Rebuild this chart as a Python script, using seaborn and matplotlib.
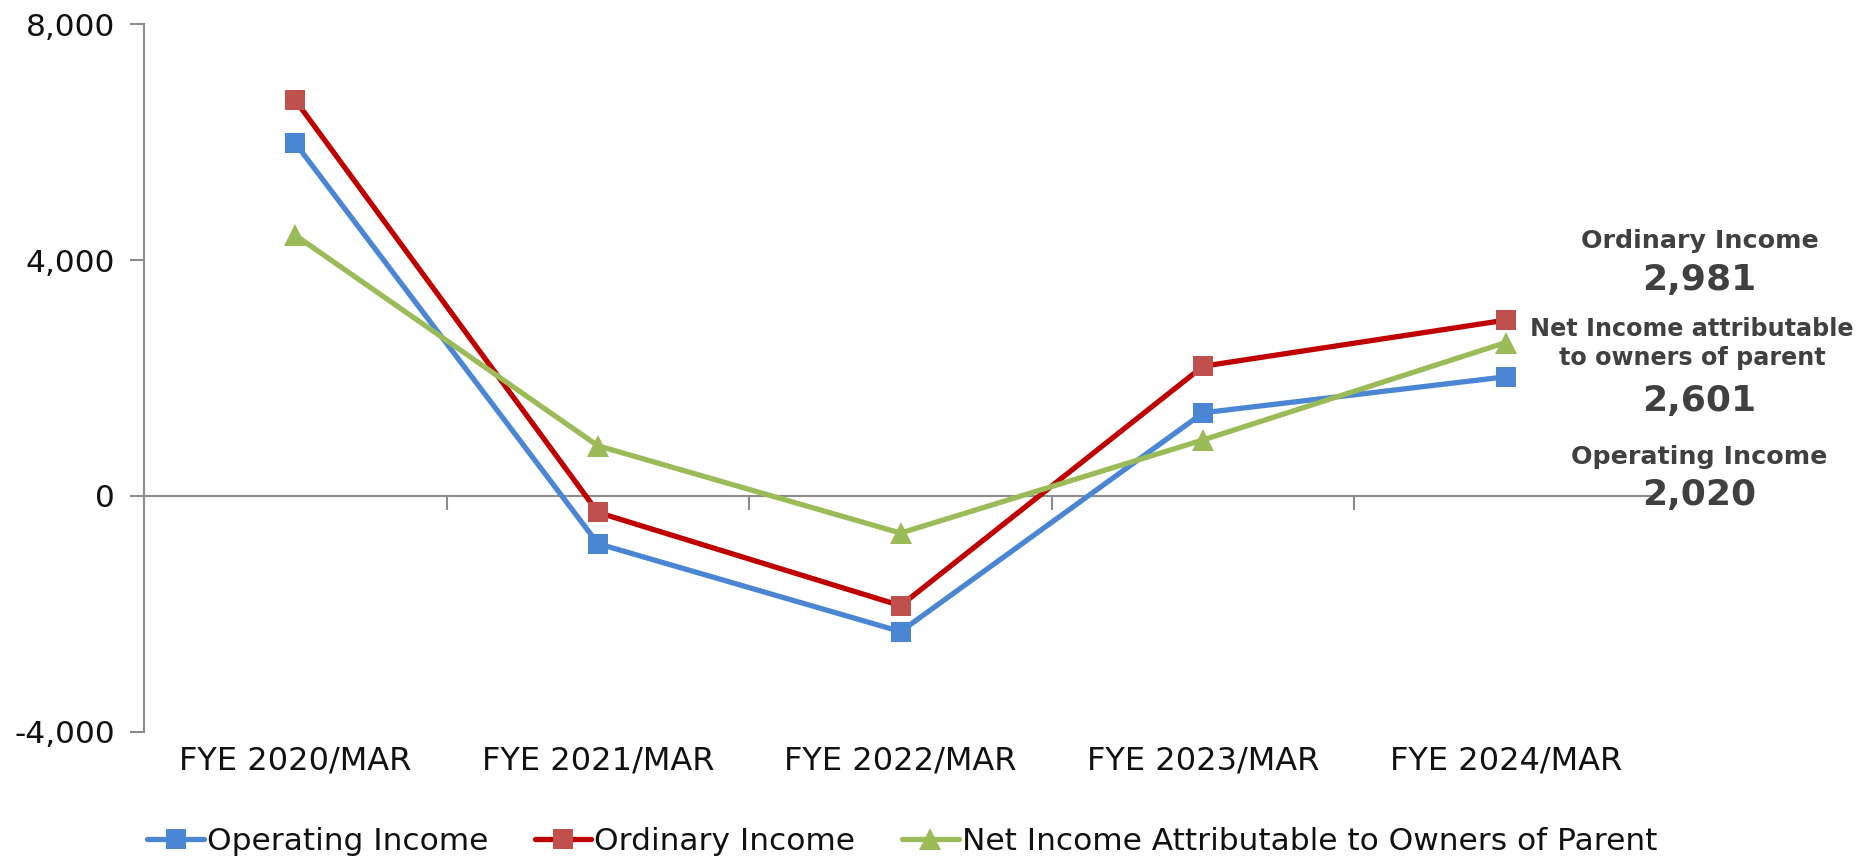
import matplotlib
matplotlib.use("Agg")
import matplotlib.pyplot as plt
import seaborn as sns
import pandas as pd
from matplotlib.ticker import FuncFormatter, FixedLocator

# --- data (million yen) ---
fiscal_years = ["FYE 2020/MAR", "FYE 2021/MAR", "FYE 2022/MAR", "FYE 2023/MAR", "FYE 2024/MAR"]
operating_income = [5980, -810, -2300, 1410, 2020]
ordinary_income = [6710, -280, -1860, 2200, 2981]
net_income_parent = [4420, 850, -630, 950, 2601]

series_names = ["Operating Income", "Ordinary Income", "Net Income Attributable to Owners of Parent"]
y_ticks = [-4000, 0, 4000, 8000]

line_colors = {"Operating Income": "#4A86D4",
               "Ordinary Income": "#C00000",
               "Net Income Attributable to Owners of Parent": "#9BBB59"}
marker_colors = {"Operating Income": "#4A86D4",
                 "Ordinary Income": "#C0504D",
                 "Net Income Attributable to Owners of Parent": "#9BBB59"}
marker_shapes = {"Operating Income": "s",
                 "Ordinary Income": "s",
                 "Net Income Attributable to Owners of Parent": "^"}

df = pd.DataFrame({
    "year": fiscal_years * 3,
    "value": operating_income + ordinary_income + net_income_parent,
    "series": [s for s in series_names for _ in fiscal_years],
})

sns.set_theme(style="white")
plt.rcParams["font.family"] = ["DejaVu Sans"]

fig = plt.figure(figsize=(18.68, 8.61), dpi=100)
ax = fig.add_axes([0.0771, 0.150, 0.8100, 0.822])

sns.lineplot(data=df, x="year", y="value", hue="series", style="series",
             palette=line_colors, markers=marker_shapes, dashes=False,
             linewidth=3.8, markersize=14, ax=ax, legend=False, sort=False)

lines = ax.get_lines()
for line, name in zip(lines, series_names):
    line.set_markerfacecolor(marker_colors[name])
    line.set_markeredgecolor(marker_colors[name])
    line.set_markeredgewidth(0)
    line.set_solid_joinstyle("miter")
    if name.startswith("Net"):
        line.set_markersize(16)

n = len(fiscal_years)
ax.set_xlim(-0.5, n - 0.5)
ax.set_ylim(y_ticks[0], y_ticks[-1])
ax.set_xlabel("")
ax.set_ylabel("")

# y axis
ax.yaxis.set_major_locator(FixedLocator(y_ticks))
ax.yaxis.set_major_formatter(FuncFormatter(lambda v, p: f"{int(v):,}"))
for side in ["top", "right", "bottom"]:
    ax.spines[side].set_visible(False)
ax.spines["left"].set_color("#8C8C8C")
ax.spines["left"].set_linewidth(1.5)
ax.tick_params(axis="y", direction="out", length=10, width=1.5, color="#8C8C8C",
               labelsize=22.5, labelcolor="#111111", pad=11, left=True)

# category labels at the bottom
ax.set_xticks(range(n))
ax.set_xticklabels(fiscal_years)
ax.tick_params(axis="x", length=0, labelsize=23, labelcolor="#111111", pad=10, bottom=True)

# horizontal axis line through zero, with ticks between categories
zero_frac = (0 - y_ticks[0]) / (y_ticks[-1] - y_ticks[0])
zax = ax.secondary_xaxis(zero_frac)
zax.spines["bottom"].set_color("#8C8C8C")
zax.spines["bottom"].set_linewidth(1.5)
zax.set_xticks([i + 0.5 for i in range(n - 1)])
zax.tick_params(axis="x", direction="out", length=10, width=1.5, color="#8C8C8C",
                labelbottom=False)

# latest-year callouts
label_x = n - 1 + 0.64
callouts = [
    ("Ordinary Income", ordinary_income[-1], 4323, 3657, 0.0, 18.3),
    ("Net Income attributable\nto owners of parent", net_income_parent[-1], 2586, 1616, -0.025, 17.2),
    ("Operating Income", operating_income[-1], 667, 20, 0.0, 18.3),
]
for title, value, y_title, y_value, dx, fs in callouts:
    ax.text(label_x + dx, y_title, title, ha="center", va="center", fontsize=fs,
            fontweight="bold", color="#404040", linespacing=1.3, clip_on=False)
    ax.text(label_x, y_value, f"{value:,}", ha="center", va="center", fontsize=26,
            fontweight="bold", color="#404040", clip_on=False)

# legend
handles = [lines[i] for i in range(len(series_names))]
fig.legend(handles, series_names, loc="center", bbox_to_anchor=(0.483, 0.023),
           ncol=3, frameon=False, fontsize=22.5, handlelength=1.8, handletextpad=0.1,
           columnspacing=1.5, labelcolor="#111111")

fig.savefig("out.png", dpi=100)
